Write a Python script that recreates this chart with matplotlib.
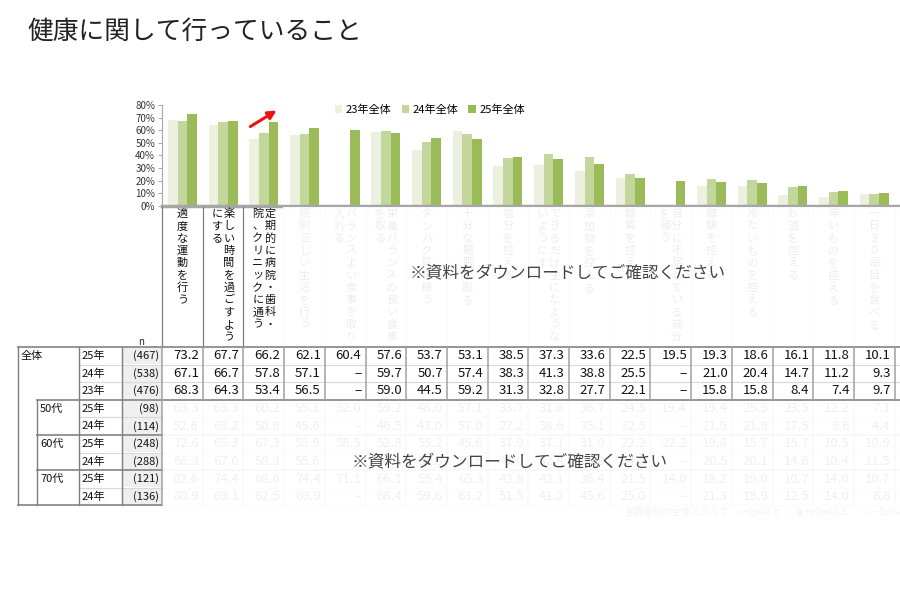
import numpy as np
import matplotlib
matplotlib.use('Agg')
import matplotlib.pyplot as plt
from matplotlib.patches import Rectangle, Patch

plt.rcParams['font.family'] = ['Noto Sans CJK JP', 'DejaVu Sans']

title = '健康に関して行っていること'
notice = '※資料をダウンロードしてご確認ください'

# item labels, written as vertical columns (right column first)
items = [
    ('適度な運動を行う',),
    ('楽しい時間を過ごすよう', 'にする'),
    ('定期的に病院・歯科・', '院、クリニックに通う'),
    ('規則正しい生活を行う',),
    ('バランスよい食事を取り', '入れる'),
    ('栄養バランスの良い食事', 'を取る'),
    ('タンパク質を補う',),
    ('十分な睡眠を取る',),
    ('塩分を控える',),
    ('できるだけ生にたような', 'いようにす'),
    ('添加物を控える',),
    ('糖質を控える',),
    ('自分に不足している成分', 'を補う'),
    ('糖類を控える',),
    ('冷たいものを控える',),
    ('お酒を控える',),
    ('辛いものを控える',),
    ('一日３０品目を食べる',),
]

nan = np.nan
all_25 = [73.2, 67.7, 66.2, 62.1, 60.4, 57.6, 53.7, 53.1, 38.5, 37.3, 33.6, 22.5, 19.5, 19.3, 18.6, 16.1, 11.8, 10.1]
all_24 = [67.1, 66.7, 57.8, 57.1, nan, 59.7, 50.7, 57.4, 38.3, 41.3, 38.8, 25.5, nan, 21.0, 20.4, 14.7, 11.2, 9.3]
all_23 = [68.3, 64.3, 53.4, 56.5, nan, 59.0, 44.5, 59.2, 31.3, 32.8, 27.7, 22.1, nan, 15.8, 15.8, 8.4, 7.4, 9.7]
age50_25 = [63.3, 65.3, 60.2, 55.1, 52.0, 59.2, 48.0, 57.1, 33.7, 31.6, 36.7, 24.5, 19.4, 19.4, 25.5, 23.5, 12.2, 7.1]
age50_24 = [52.6, 63.2, 50.9, 45.6, nan, 46.5, 43.0, 57.0, 27.2, 38.6, 35.1, 32.5, nan, 21.9, 21.9, 17.5, 9.6, 4.4]
age60_25 = [72.6, 65.3, 67.3, 58.9, 58.5, 52.8, 55.2, 45.6, 37.9, 37.1, 31.0, 22.2, 22.2, 19.8, 15.7, 15.7, 10.5, 10.9]
age60_24 = [66.3, 67.0, 58.3, 55.6, nan, 60.1, 53.5, 57.6, 41.0, 42.4, 38.9, 24.0, nan, 20.5, 20.1, 14.6, 10.4, 11.5]
age70_25 = [82.6, 74.4, 68.6, 74.4, 71.1, 66.1, 55.4, 65.3, 43.8, 42.1, 36.4, 21.5, 14.0, 18.2, 19.0, 10.7, 14.0, 10.7]
age70_24 = [80.9, 69.1, 62.5, 69.9, nan, 68.4, 59.6, 63.2, 51.5, 41.2, 45.6, 25.0, nan, 21.3, 19.9, 12.5, 14.0, 8.8]

row_groups = ['全体', '', '', '50代', '', '60代', '', '70代', '']
row_years = ['25年', '24年', '23年', '25年', '24年', '25年', '24年', '25年', '24年']
row_n = [467, 538, 476, 98, 114, 248, 288, 121, 136]
rows = [all_25, all_24, all_23, age50_25, age50_24, age60_25, age60_24, age70_25, age70_24]

series_names = ['23年全体', '24年全体', '25年全体']
series_colors = ['#ebf1de', '#c3d69b', '#9bbb59']

footer_label = '各調査年の全体と比べて'
footer_keys = ['+5pt以上', '+10pt以上', '−5pt以上']
footer_colors = ['#f6c6c6', '#e06666', '#c6d9f1']

# layout in pixels
W, H = 900, 600
x0, cw = 162, 40.7
top, rh = 347, 17.6
bar_bottom, bar_top = 206, 105

fig = plt.figure(figsize=(9, 6), dpi=100)

ax = fig.add_axes([x0 / W, 1 - bar_bottom / H, (W - x0) / W, (bar_bottom - bar_top) / H])
pos = np.arange(len(items)) + 0.5
bw = 0.238
for k, (vals, col) in enumerate(zip([all_23, all_24, all_25], series_colors)):
    ax.bar(pos + (k - 1) * bw, vals, width=bw, color=col, linewidth=0)
ax.set_xlim(0, (W - x0) / cw)
ax.set_ylim(0, 80)
ax.set_yticks(range(0, 81, 10))
ax.set_yticklabels([f'{v}%' for v in range(0, 81, 10)], fontsize=7, color='#333333')
ax.set_xticks([])
ax.tick_params(axis='y', length=3, width=0.6, color='#a0a0a0', pad=2)
for s in ['top', 'right']:
    ax.spines[s].set_visible(False)
ax.spines['left'].set_color('#a6a6a6')
ax.spines['left'].set_linewidth(0.8)
ax.spines['bottom'].set_color('#a6a6a6')
ax.spines['bottom'].set_linewidth(2.5)

handles = [Patch(facecolor=c, edgecolor='none') for c in series_colors]
fig.legend(handles, series_names, loc='center', bbox_to_anchor=(430 / W, 1 - 110 / H),
           ncol=3, frameon=False, fontsize=8, handlelength=0.7, handleheight=0.7,
           handletextpad=0.3, columnspacing=0.9)

# table / labels layer in pixel coordinates
tab = fig.add_axes([0, 0, 1, 1])
tab.set_xlim(0, W)
tab.set_ylim(H, 0)
tab.axis('off')
tab.patch.set_visible(False)

tab.text(27, 32, title, fontsize=18.5, color='#222222', va='center', ha='left')

tab.annotate('', xy=(279, 109), xytext=(248, 128),
             arrowprops=dict(arrowstyle='-|>', color='#ee1111', lw=2.2, mutation_scale=12))

n_cols = len(items) + 1
# label area
for k in range(n_cols + 1):
    xb = x0 + k * cw
    c = '#7f7f7f' if k <= 2 else '#c8c8c8'
    tab.plot([xb, xb], [bar_bottom + 1, top], color=c, lw=0.9)
for k, cols in enumerate(items):
    xc = x0 + (k + 0.5) * cw
    nc = len(cols)
    for j, s in enumerate(cols):
        xx = xc + (nc - 1) * 6 - j * 12
        for i, ch in enumerate(s):
            tab.text(xx, 214 + i * 12.3, ch, fontsize=8, ha='center', va='center', color='#111111')

# left part of the table
bottom = top + rh * len(rows)
tab.text(141, top - 5, 'n', fontsize=7, ha='center', va='center', color='#222222')
for i in range(len(rows)):
    yt = top + i * rh
    tab.add_patch(Rectangle((122, yt + 0.5), 40, rh - 1, facecolor='#efefef', edgecolor='none'))
    yc = yt + rh / 2
    if row_groups[i]:
        gx = 21 if i == 0 else 40
        tab.text(gx, yc, row_groups[i], fontsize=8, ha='left', va='center', color='#111111')
    tab.text(82, yc, row_years[i], fontsize=8, ha='left', va='center', color='#111111')
    tab.text(159, yc, f'({row_n[i]})', fontsize=8, ha='right', va='center', color='#111111')
    for k, v in enumerate(rows[i]):
        xr = x0 + (k + 1) * cw - 4
        txt = '−' if np.isnan(v) else f'{v:.1f}'
        tab.text(xr, yc, txt, fontsize=9.5, ha='right', va='center', color='#111111')

# grid lines
for i in range(1, len(rows)):
    y = top + i * rh
    if i in (3, 5, 7):
        tab.plot([37, W], [y, y], color='#8c8c8c', lw=1.3)
    else:
        tab.plot([79, W], [y, y], color='#d9d9d9', lw=0.8)
tab.plot([18, W], [top, top], color='#8c8c8c', lw=1.3)
tab.plot([18, x0], [bottom, bottom], color='#8c8c8c', lw=1.3)
tab.plot([x0, W], [bottom, bottom], color='#d0d0d0', lw=0.8)
for xb in (18, 79, 122):
    tab.plot([xb, xb], [top, bottom], color='#7f7f7f', lw=1)
tab.plot([37, 37], [top + 3 * rh, bottom], color='#7f7f7f', lw=1)
for k in range(n_cols + 1):
    xb = x0 + k * cw
    tab.plot([xb, xb], [top, bottom], color='#a0a0a0', lw=1.1)

# colour key under the table
tab.text(625, 512, footer_label, fontsize=6.8, ha='left', va='center', color='#333333')
for xk, key, col in zip([735, 797, 867], footer_keys, footer_colors):
    tab.add_patch(Rectangle((xk, 508.5), 6, 7, facecolor=col, edgecolor='none'))
    tab.text(xk + 8, 512, key, fontsize=6.8, ha='left', va='center', color='#333333')

# faded overlay
tab.add_patch(Rectangle((283, bar_bottom + 1), W - 283, top - bar_bottom - 2,
                        facecolor='white', edgecolor='none', alpha=0.93, zorder=10))
tab.add_patch(Rectangle((x0 + 0.8, top + 3 * rh + 1), W - x0, 140,
                        facecolor='white', edgecolor='none', alpha=0.94, zorder=10))
tab.text(568, 273, notice, fontsize=12, ha='center', va='center', color='#444444', zorder=11)
tab.text(510, 462, notice, fontsize=12, ha='center', va='center', color='#444444', zorder=11)

fig.savefig('out.png', dpi=100)
